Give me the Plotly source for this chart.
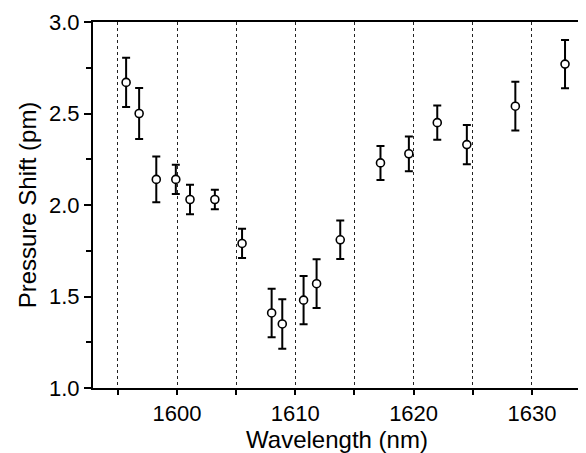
import plotly.graph_objects as go

wavelength = [1595.7, 1596.8, 1598.25, 1599.9, 1601.1, 1603.2, 1605.5, 1608.0, 1608.9,
              1610.7, 1611.8, 1613.8, 1617.2, 1619.6, 1622.0, 1624.5, 1628.6, 1632.8]
shift = [2.67, 2.50, 2.14, 2.14, 2.03, 2.03, 1.79, 1.41, 1.35,
         1.48, 1.57, 1.81, 2.23, 2.28, 2.45, 2.33, 2.54, 2.77]
err = [0.135, 0.14, 0.125, 0.08, 0.08, 0.053, 0.08, 0.133, 0.135,
       0.132, 0.133, 0.105, 0.093, 0.095, 0.094, 0.107, 0.133, 0.132]

font = "Liberation Sans, Arial, sans-serif"

fig = go.Figure()
fig.add_trace(go.Scatter(
    x=wavelength, y=shift, mode="markers",
    marker=dict(symbol="circle", size=8, color="white",
                line=dict(color="black", width=1.6)),
    error_y=dict(type="data", array=err, visible=True,
                 color="black", thickness=2, width=4),
    showlegend=False,
))

fig.update_layout(
    width=578, height=445,
    margin=dict(l=85, r=5, t=14, b=65),
    plot_bgcolor="white", paper_bgcolor="white",
    font=dict(family=font, size=22, color="black"),
    xaxis=dict(
        range=[1592.9, 1634.15], tick0=1600, dtick=10,
        showline=True, linecolor="black", linewidth=2, mirror=True,
        ticks="outside", ticklen=5, tickwidth=1.5, tickcolor="black",
        showgrid=True, gridcolor="#222", gridwidth=1, griddash="dot",
        minor=dict(dtick=5, tick0=1595, ticks="outside", ticklen=5,
                   tickwidth=1.5, tickcolor="black", showgrid=True,
                   gridcolor="#222", gridwidth=1, griddash="dot"),
        zeroline=False,
        title=dict(text="Wavelength (nm)", font=dict(size=24), standoff=1),
        tickfont=dict(size=22),
        automargin=False,
    ),
    yaxis=dict(
        range=[1.0, 3.0], tick0=1.0, dtick=0.5, tickformat=".1f",
        showline=True, linecolor="black", linewidth=2, mirror=False,
        ticks="outside", ticklen=7, tickwidth=1.5, tickcolor="black",
        showgrid=False, zeroline=False,
        minor=dict(dtick=0.25, ticks="outside", ticklen=5,
                   tickwidth=1.5, tickcolor="black", showgrid=False),
        title=dict(text="Pressure Shift (pm)", font=dict(size=24), standoff=6),
        tickfont=dict(size=22),
        automargin=False,
    ),
)

fig.write_html("out.html")
